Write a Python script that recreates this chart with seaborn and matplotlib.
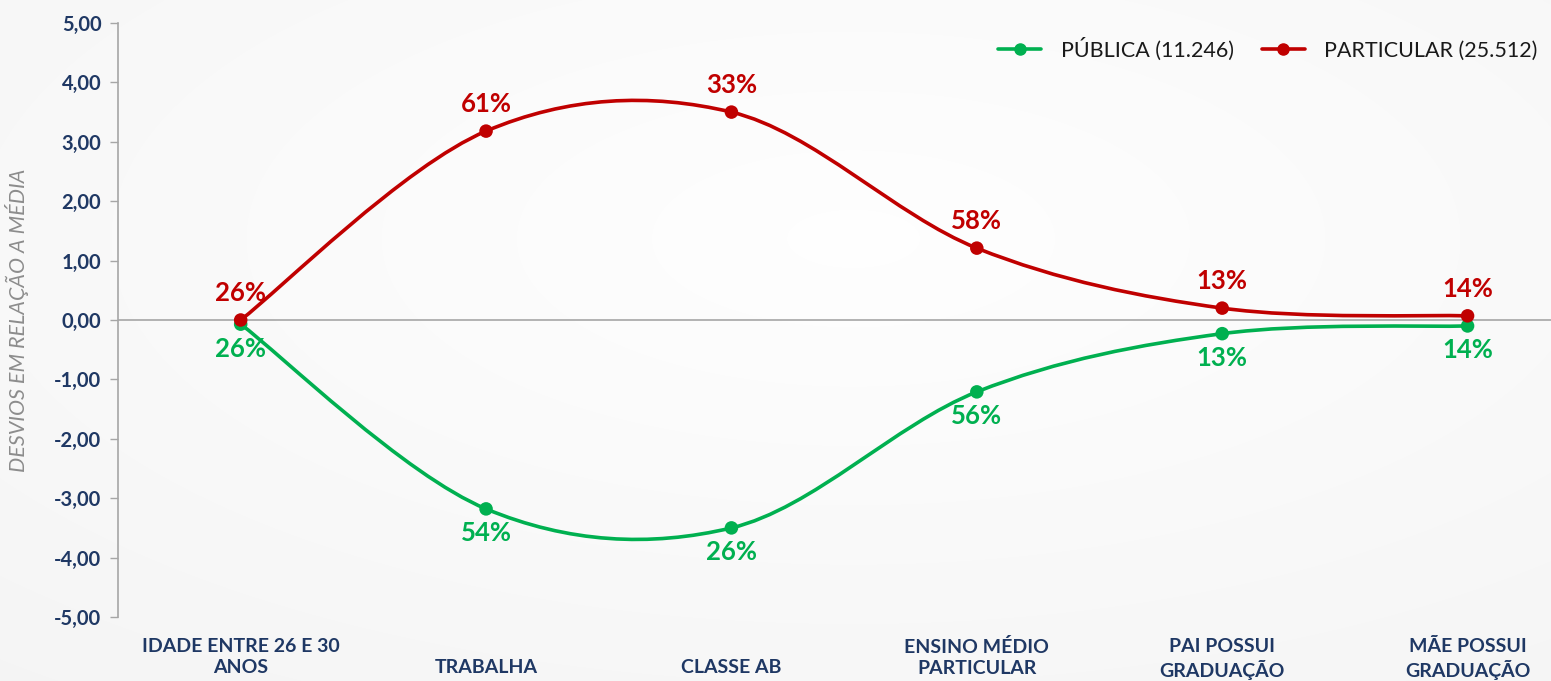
import numpy as np
import pandas as pd
import seaborn as sns
from matplotlib import pyplot as plt
from matplotlib.path import Path
from matplotlib.patches import PathPatch
from matplotlib.lines import Line2D

categorias = ['IDADE ENTRE 26 E 30\nANOS', 'TRABALHA', 'CLASSE AB',
              'ENSINO MÉDIO\nPARTICULAR', 'PAI POSSUI\nGRADUAÇÃO', 'MÃE POSSUI\nGRADUAÇÃO']
publica = [-0.07, -3.18, -3.50, -1.21, -0.23, -0.10]
particular = [0.00, 3.18, 3.50, 1.21, 0.20, 0.07]
rotulos_publica = ['26%', '54%', '26%', '56%', '13%', '14%']
rotulos_particular = ['26%', '61%', '33%', '58%', '13%', '14%']
series = ['PÚBLICA (11.246)', 'PARTICULAR (25.512)']
yticks = [-5, -4, -3, -2, -1, 0, 1, 2, 3, 4, 5]

VERDE = '#00B050'
VERMELHO = '#C00000'
AZUL = '#1F3864'

sns.set_style('white')
plt.rcParams['font.family'] = ['Lato', 'DejaVu Sans']

fig = plt.figure(figsize=(15.51, 6.81), dpi=100)

# fundo levemente degradê
h, w = 681, 1551
yy, xx = np.mgrid[0:h, 0:w]
r = np.sqrt(((xx - w * 0.55) / w) ** 2 + ((yy - h * 0.35) / h) ** 2)
bg = 0.998 - 0.045 * np.clip(r, 0, 1)
fig.figimage(np.dstack([bg, bg, bg]), xo=0, yo=0, zorder=0)

ax = fig.add_axes([118 / 1551, 1 - 617 / 681, 1 - 118 / 1551, (617 - 23) / 681])
ax.set_zorder(2)
ax.patch.set_alpha(0)

df = pd.DataFrame({
    'x': list(range(len(categorias))) * 2,
    'valor': publica + particular,
    'serie': [series[0]] * len(publica) + [series[1]] * len(particular),
})


def curva_suave(xs, ys):
    # spline suavizada estilo Excel (Catmull-Rom em Bezier)
    pts = np.column_stack([xs, ys]).astype(float)
    n = len(pts)
    verts = [pts[0]]
    codes = [Path.MOVETO]
    for i in range(n - 1):
        p0 = pts[max(i - 1, 0)]
        p1 = pts[i]
        p2 = pts[i + 1]
        p3 = pts[min(i + 2, n - 1)]
        verts += [p1 + (p2 - p0) / 6, p2 - (p3 - p1) / 6, p2]
        codes += [Path.CURVE4] * 3
    return Path(verts, codes)


ax.axhline(0, color='#a6a6a6', lw=1.2, zorder=1)

xs = list(range(len(categorias)))
for vals, cor in [(publica, VERDE), (particular, VERMELHO)]:
    ax.add_patch(PathPatch(curva_suave(xs, vals), facecolor='none',
                           edgecolor=cor, lw=2.6, zorder=2, capstyle='round'))

sns.scatterplot(data=df, x='x', y='valor', hue='serie', palette=[VERDE, VERMELHO],
                s=95, edgecolor='none', legend=False, ax=ax, zorder=3)

for i in xs:
    ax.annotate(rotulos_particular[i], (i, particular[i]), xytext=(0, 11),
                textcoords='offset points', ha='center', va='bottom',
                color=VERMELHO, fontsize=18.5, fontweight='bold')
    ax.annotate(rotulos_publica[i], (i, publica[i]), xytext=(0, -9),
                textcoords='offset points', ha='center', va='top',
                color=VERDE, fontsize=18.5, fontweight='bold')

ax.set_xlim(-0.5, 5.34)
ax.set_ylim(-5, 5)
ax.set_yticks(yticks)
ax.set_yticklabels([f'{v:.2f}'.replace('.', ',') for v in yticks],
                   color=AZUL, fontsize=14.5, fontweight='bold')
ax.set_xticks(xs)
# rótulos de uma linha ficam alinhados à linha de baixo
ax.set_xticklabels([c if '\n' in c else '\n' + c for c in categorias],
                   color=AZUL, fontsize=14, fontweight='bold', linespacing=1.3)
ax.tick_params(axis='x', length=0, pad=15)
ax.tick_params(axis='y', length=6, width=1, color='#a6a6a6', pad=6, left=True)
ax.set_xlabel('')
ax.set_ylabel('DESVIOS EM RELAÇÃO A MÉDIA', color='#8c8c8c', fontsize=15.5,
              fontstyle='italic')
ax.yaxis.set_label_coords(-0.062, 0.5)

for s in ['top', 'right', 'bottom']:
    ax.spines[s].set_visible(False)
ax.spines['left'].set_color('#a6a6a6')
ax.spines['left'].set_linewidth(1.2)

handles = [Line2D([], [], color=VERDE, lw=2.6, marker='o', markersize=8),
           Line2D([], [], color=VERMELHO, lw=2.6, marker='o', markersize=8)]
leg = ax.legend(handles, series, loc='upper right', ncol=2, frameon=False,
                fontsize=15.5, handlelength=2.0, handletextpad=0.9,
                columnspacing=1.3, bbox_to_anchor=(1.004, 1.008))
for t in leg.get_texts():
    t.set_color('#1a1a1a')

plt.savefig('out.png', dpi=100)
